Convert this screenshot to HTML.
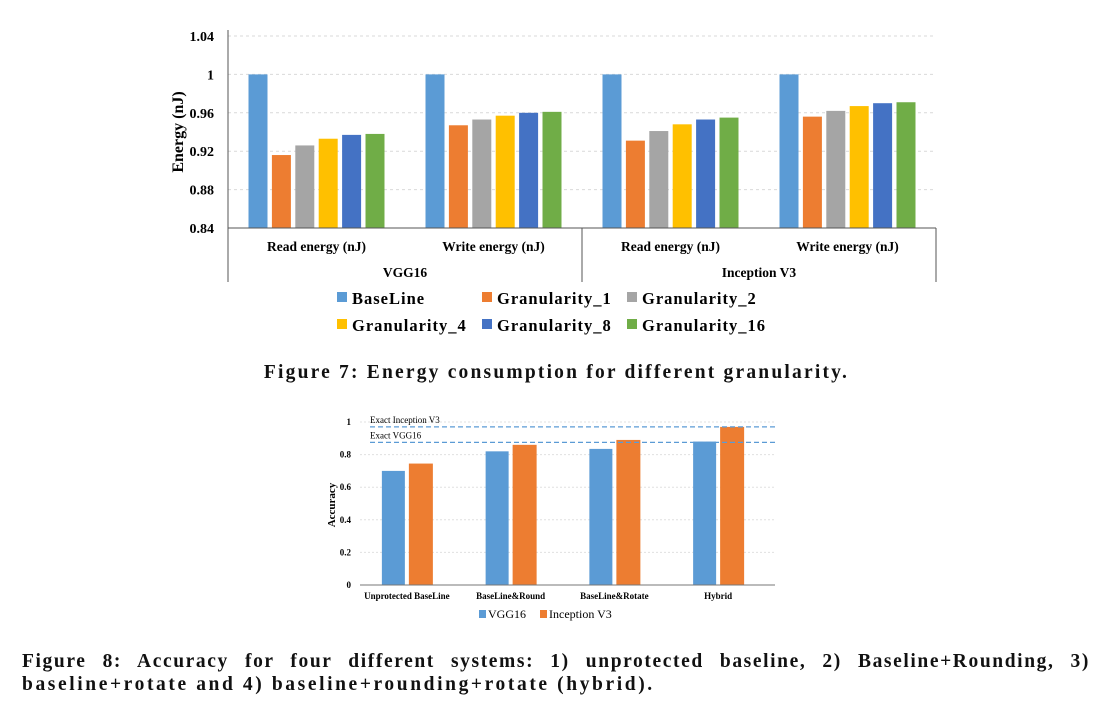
<!DOCTYPE html>
<html><head><meta charset="utf-8"><style>
body{margin:0;background:#fff;width:1113px;height:720px;overflow:hidden;font-family:"Liberation Serif",serif}
svg{position:absolute;left:0;top:0}
.cap{position:absolute;font-weight:bold;font-size:19.5px;color:#111;letter-spacing:2.2px;white-space:nowrap}
</style></head><body>
<svg id="s" width="1113" height="720"></svg>
<div class="cap" style="left:0;width:1113px;top:362px;text-align:center">Figure 7: Energy consumption for different granularity.</div>
<div class="cap" style="left:22px;width:1068px;top:650px;line-height:23px;letter-spacing:1.6px">
<div style="text-align:justify;text-align-last:justify;white-space:normal">Figure 8: Accuracy for four different systems: 1) unprotected baseline, 2) Baseline+Rounding, 3)</div>
<div style="letter-spacing:2.6px">baseline+rotate and 4) baseline+rounding+rotate (hybrid).</div></div>
<script>
const groups=["Read energy (nJ)","Write energy (nJ)","Read energy (nJ)","Write energy (nJ)"];
const models=["VGG16","Inception V3"];
const seriesNames=["BaseLine","Granularity_1","Granularity_2","Granularity_4","Granularity_8","Granularity_16"];
const energy=[[1,0.916,0.926,0.933,0.937,0.938],[1,0.947,0.953,0.957,0.960,0.961],[1,0.931,0.941,0.948,0.953,0.955],[1,0.956,0.962,0.967,0.970,0.971]];
const eTicks=[0.84,0.88,0.92,0.96,1,1.04];
const eTickLabels=["0.84","0.88","0.92","0.96","1","1.04"];
const accCats=["Unprotected BaseLine","BaseLine&Round","BaseLine&Rotate","Hybrid"];
const accVGG=[0.70,0.82,0.835,0.88];
const accInc=[0.745,0.86,0.89,0.97];
const exactVGG=0.875, exactInc=0.97;
const aTicks=[0,0.2,0.4,0.6,0.8,1];
const aTickLabels=["0","0.2","0.4","0.6","0.8","1"];
const colors=["#5b9bd5","#ed7d31","#a5a5a5","#ffc000","#4472c4","#70ad47"];
const S=document.getElementById('s');const NS="http://www.w3.org/2000/svg";
function el(t,a,txt){const e=document.createElementNS(NS,t);for(const k in a)e.setAttribute(k,a[k]);if(txt!==undefined)e.textContent=txt;S.appendChild(e);return e;}
// Chart 1
const x0=228,x1=936,yb=228,yt=36;
const ey=v=>yb-(v-0.84)/(1.04-0.84)*(yb-yt);
eTicks.forEach((t,i)=>{const y=ey(t);
 if(i>0){const g=el('line',{x1:x0,x2:x1,y1:y,y2:y,stroke:'#d9d9d9','stroke-dasharray':'3,3'});}
 const l=el('text',{x:214,y:y+5,'text-anchor':'end','font-size':14,'font-weight':'bold'},eTickLabels[i]);});
const gw=(x1-x0)/groups.length,bw=19,bg=4.4;
energy.forEach((vals,gi)=>{const start=x0+gi*gw+(gw-(6*bw+5*bg))/2;
 vals.forEach((v,si)=>{const r=el('rect',{x:start+si*(bw+bg),y:ey(v),width:bw,height:yb-ey(v),fill:colors[si]});});
 const t=el('text',{x:x0+gi*gw+gw/2,y:251,'text-anchor':'middle','font-size':13.5,'font-weight':'bold'},groups[gi]);});
models.forEach((m,i)=>{const t=el('text',{x:x0+(2*i+1)*gw,y:277,'text-anchor':'middle','font-size':13.5,'font-weight':'bold'},m);});
[[x0,yt-6,x0,282],[x0,yb,x1,yb],[x0+2*gw,yb,x0+2*gw,282],[x1,yb,x1,282]].forEach(c=>{const l=el('line',{x1:c[0],y1:c[1],x2:c[2],y2:c[3],stroke:'#555','stroke-width':1});});
const yt1=el('text',{transform:'translate(183,132) rotate(-90)','text-anchor':'middle','font-size':16,'font-weight':'bold'},'Energy (nJ)');
seriesNames.forEach((n,i)=>{const lx=337+(i%3)*145,ly=298+Math.floor(i/3)*27;
 const r=el('rect',{x:lx,y:ly-6,width:10,height:10,fill:colors[i]});
 const t=el('text',{x:lx+15,y:ly+6,'font-size':16.5,'font-weight':'bold','letter-spacing':1},n);});
// Chart 2
const ax0=360,ax1=775,ab=585,at=422;
const ay=v=>ab-v*(ab-at);
aTicks.forEach((t,i)=>{const y=ay(t);
 if(i>0){const g=el('line',{x1:ax0,x2:ax1,y1:y,y2:y,stroke:'#e0e0e0','stroke-dasharray':'2,2'});}
 const l=el('text',{x:351,y:y+3,'text-anchor':'end','font-size':9,'font-weight':'bold'},aTickLabels[i]);});
const cw=(ax1-ax0)/accCats.length,abw=23;
accCats.forEach((c,i)=>{const cx=ax0+i*cw+cw/2-5;
 const r1=el('rect',{x:cx-abw-2,y:ay(accVGG[i]),width:abw,height:ab-ay(accVGG[i]),fill:colors[0]});
 const r2=el('rect',{x:cx+2,y:ay(accInc[i]),width:abw+1,height:ab-ay(accInc[i]),fill:colors[1]});
 const t=el('text',{x:cx,y:599,'text-anchor':'middle','font-size':9,'font-weight':'bold'},c);});
const al=el('line',{x1:ax0,y1:ab,x2:ax1,y2:ab,stroke:'#777'});
[[exactInc,'Exact Inception V3'],[exactVGG,'Exact VGG16']].forEach(d=>{const y=ay(d[0]);
 const l=el('line',{x1:370,x2:776,y1:y,y2:y,stroke:'#5b9bd5','stroke-dasharray':'5,3','stroke-width':1.2});
 const t=el('text',{x:370,y:y-4,'font-size':9},d[1]);});
const yt2=el('text',{transform:'translate(335,505) rotate(-90)','text-anchor':'middle','font-size':11,'font-weight':'bold'},'Accuracy');
[[479,colors[0],'VGG16'],[540,colors[1],'Inception V3']].forEach(d=>{
 const r=el('rect',{x:d[0],y:610,width:7,height:8,fill:d[1]});
 const t=el('text',{x:d[0]+9,y:618,'font-size':12},d[2]);});
</script>
</body></html>
